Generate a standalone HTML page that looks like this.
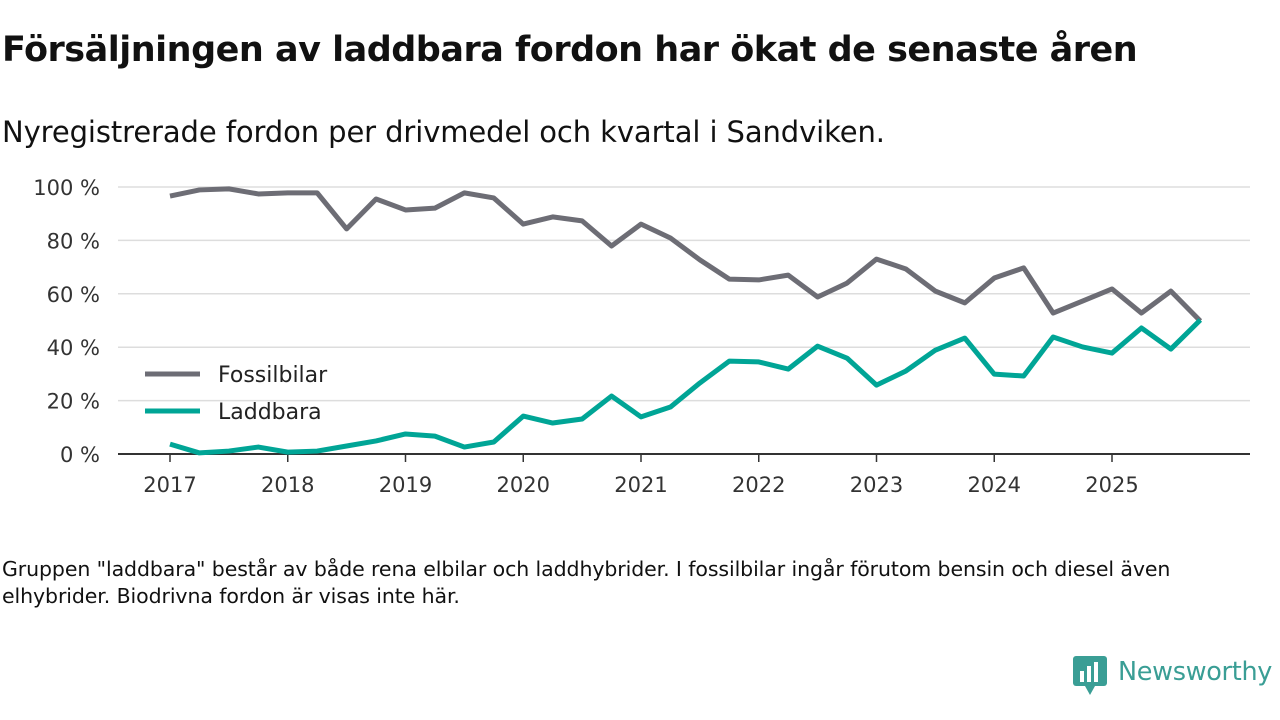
<!DOCTYPE html>
<html><head><meta charset="utf-8"><style>
body{margin:0;width:1280px;height:720px;background:#fff;font-family:"Liberation Sans","DejaVu Sans",sans-serif;overflow:hidden;position:relative;color:#111}
h1{position:absolute;left:2px;top:30px;margin:0;font-size:35px;font-weight:bold;font-family:"DejaVu Sans","Liberation Sans",sans-serif;letter-spacing:-0.5px}
.sub{position:absolute;left:2px;top:115px;font-size:29px;font-family:"DejaVu Sans",sans-serif;letter-spacing:-0.1px}
.note{position:absolute;left:2px;top:556px;font-size:20.5px;line-height:27px;width:1230px;font-family:"DejaVu Sans",sans-serif;letter-spacing:-0.1px}
svg{position:absolute;left:0;top:0}
</style></head><body>
<h1>Försäljningen av laddbara fordon har ökat de senaste åren</h1>
<div class="sub">Nyregistrerade fordon per drivmedel och kvartal i Sandviken.</div>
<svg id="chart" width="1280" height="720"></svg>
<div class="note">Gruppen "laddbara" består av både rena elbilar och laddhybrider. I fossilbilar ingår förutom bensin och diesel även elhybrider. Biodrivna fordon är visas inte här.</div>
<div style="position:absolute;left:1073px;top:656px;">
<svg width="36" height="40" viewBox="0 0 36 40" style="position:static"><rect x="0" y="0" width="34" height="30" rx="3" fill="#3a9e95"/><polygon points="12,30 17,39 22,30" fill="#3a9e95"/><rect x="7" y="15" width="4" height="11" fill="#fff"/><rect x="14" y="10" width="4" height="16" fill="#fff"/><rect x="21" y="6" width="4" height="20" fill="#fff"/></svg>
<span style="position:absolute;left:45px;top:1px;font-size:25.5px;font-family:'DejaVu Sans',sans-serif;color:#3a9e95;white-space:nowrap;letter-spacing:-0.3px">Newsworthy</span></div>
<script>
const years=[2017,2018,2019,2020,2021,2022,2023,2024,2025];
const yTicks=[0,20,40,60,80,100];
const fossil=[96.6,98.9,99.3,97.4,97.8,97.8,84.3,95.5,91.4,92.1,97.8,95.9,86.1,88.8,87.3,77.9,86.1,80.9,72.7,65.5,65.2,67.0,58.8,64.0,73.0,69.3,61.0,56.6,65.9,69.7,52.8,57.3,61.8,52.8,61.0,49.8];
const laddbara=[3.7,0.4,1.1,2.6,0.7,1.1,3.0,4.9,7.5,6.7,2.6,4.5,14.2,11.6,13.1,21.7,13.9,17.6,26.6,34.8,34.5,31.8,40.4,35.9,25.8,31.1,38.9,43.4,29.9,29.2,43.8,40.1,37.8,47.2,39.3,50.2];
const svg=document.getElementById('chart');const NS='http://www.w3.org/2000/svg';
const xs=t=>170+(t-2017)*117.75;const ys=v=>454-v*2.67;
function mk(tag,a){const e=document.createElementNS(NS,tag);for(const k in a)e.setAttribute(k,a[k]);svg.appendChild(e);return e;}
yTicks.forEach(v=>{const g=mk('line',{x1:118,x2:1250,y1:ys(v),y2:ys(v),stroke:v?'#dddddd':'#333','stroke-width':v?1.5:2});


const t=mk('text',{x:100,y:ys(v)+8,'text-anchor':'end','font-size':21,fill:'#333','font-family':'DejaVu Sans,sans-serif'});t.textContent=v+' %';

});
years.forEach(y=>{const l=mk('line',{x1:xs(y),x2:xs(y),y1:454,y2:462,stroke:'#333','stroke-width':1.5});


const t=mk('text',{x:xs(y),y:492,'text-anchor':'middle','font-size':21,fill:'#333','font-family':'DejaVu Sans,sans-serif'});t.textContent=y;

});
function line(d,c,n){const p=mk('polyline',{points:d.map((v,i)=>xs(2017+i/4)+','+ys(v)).join(' '),fill:'none',stroke:c,'stroke-width':5,'stroke-linejoin':'round'});

}
line(fossil,'#6d6d75','fossil-line');line(laddbara,'#00a596','laddbara-line');
[['Fossilbilar','#6d6d75',374],['Laddbara','#00a596',411]].forEach(([n,c,y])=>{const l=mk('line',{x1:145,x2:200,y1:y,y2:y,stroke:c,'stroke-width':5});


const t=mk('text',{x:218,y:y+8,'font-size':22,fill:'#222','font-family':'DejaVu Sans,sans-serif'});t.textContent=n;

});
</script>
</body></html>
